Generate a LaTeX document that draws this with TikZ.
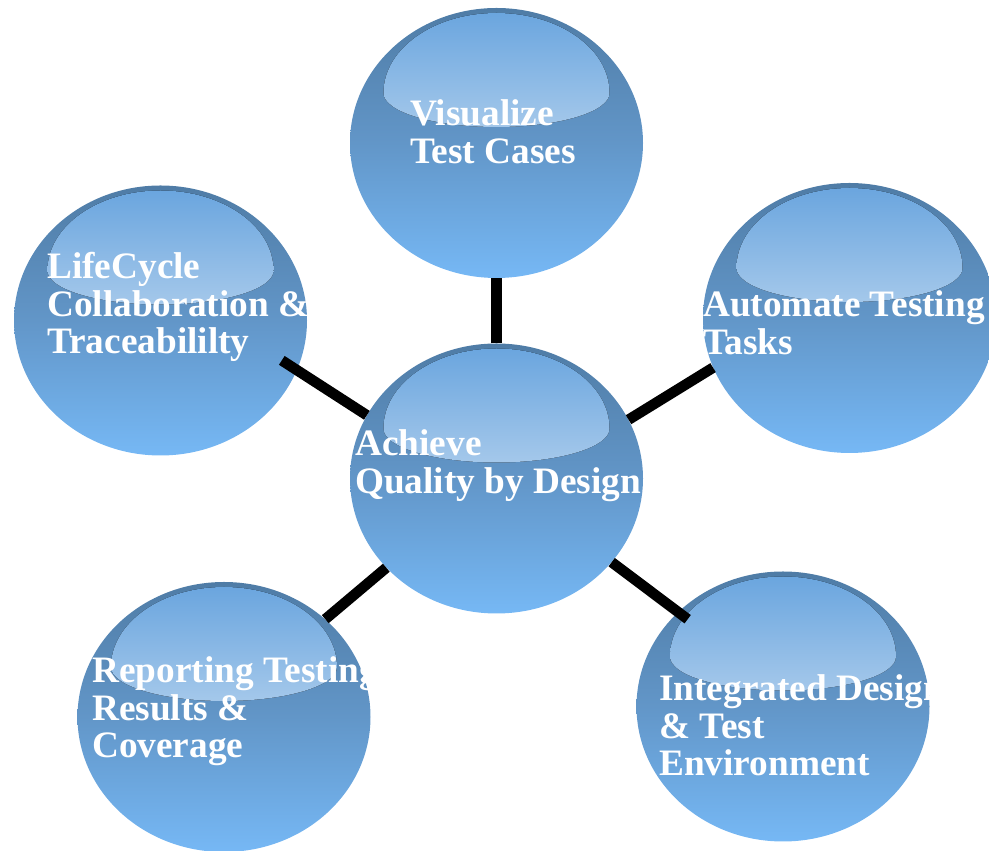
\documentclass[tikz,border=0pt]{standalone}
\usepackage{fontspec}
\setmainfont{Liberation Serif}
\usetikzlibrary{shapes.geometric}
\definecolor{bubtop}{RGB}{79,124,166}
\definecolor{bubmid}{RGB}{98,150,200}
\definecolor{bubbot}{RGB}{118,184,245}
\definecolor{glosstop}{RGB}{104,164,222}
\definecolor{glossbot}{RGB}{240,245,250}
\tikzset{
    bubble/.style = {ellipse, minimum width=293pt, minimum height=270pt, inner sep=0pt,
        top color=bubtop, bottom color=bubbot, middle color=bubmid,
        path picture={\fill[top color=glosstop, bottom color=glossbot, middle color=glosstop!50!glossbot]
            ([shift={(-113pt,50pt)}]path picture bounding box.center)
            arc[start angle=180, end angle=0, x radius=113pt, y radius=80pt]
            arc[start angle=0, end angle=-180, x radius=113pt, y radius=34pt] -- cycle;}},
    bubtext/.style = {anchor=base west, align=left, inner sep=0pt, text=white,
        font=\bfseries\fontsize{37.3}{37.5}\selectfont}, % base = last line
    link/.style = {-, line width=10.5pt, black}
}
\begin{document}
\begin{tikzpicture}[x=1pt,y=1pt]
\path[use as bounding box] (0,0) rectangle (989,851);
%
\node[bubble] at (496.5,372.5) (hub) {};
\node[bubble] at (496.5,708) (visual) {};
\node[bubble] at (160.5,530.5) (lifecyc) {};
\node[bubble] at (849.5,533) (automate) {};
\node[bubble] at (224,134) (report) {};
\node[bubble] at (783,144.5) (integ) {};
%
\draw[link] (hub.north) -- (visual.south);
\draw[link,shorten >=-18pt] (hub.154) -- (lifecyc.-20);
\draw[link] (hub.24) -- (automate.-160);
\draw[link] (hub.219) -- (report.44);
\draw[link,shorten >=-12pt] (hub.-36) -- (integ.138);
%
\node[bubtext] at ([shift={(-141.5,-15)}]hub.center) (hubtxt) {Achieve\\Quality by Design};
\node[bubtext] at ([shift={(-86.5,-20.5)}]visual.center) (visualtxt) {Visualize\\Test Cases};
\begin{scope}
\clip (lifecyc.center) ellipse [x radius=146.5pt, y radius=135pt];
\node[bubtext] at ([shift={(-113.5,-33.5)}]lifecyc.center) (lifecyctxt) {LifeCycle\\Collaboration \&\\Traceabililty};
\end{scope}
\node[bubtext] at ([shift={(-146.5,-36.5)}]automate.center) (automatetxt) {Automate Testing\\Tasks};
\begin{scope}
\clip (report.center) ellipse [x radius=146.5pt, y radius=135pt];
\node[bubtext] at ([shift={(-132,-41)}]report.center) (reporttxt) {Reporting Testing\\Results \&\\Coverage};
\end{scope}
\begin{scope}
\clip (integ.center) ellipse [x radius=146.5pt, y radius=135pt];
\node[bubtext] at ([shift={(-124,-69.5)}]integ.center) (integtxt) {Integrated Design\\\& Test\\Environment};
\end{scope}

\end{tikzpicture}
\end{document}
